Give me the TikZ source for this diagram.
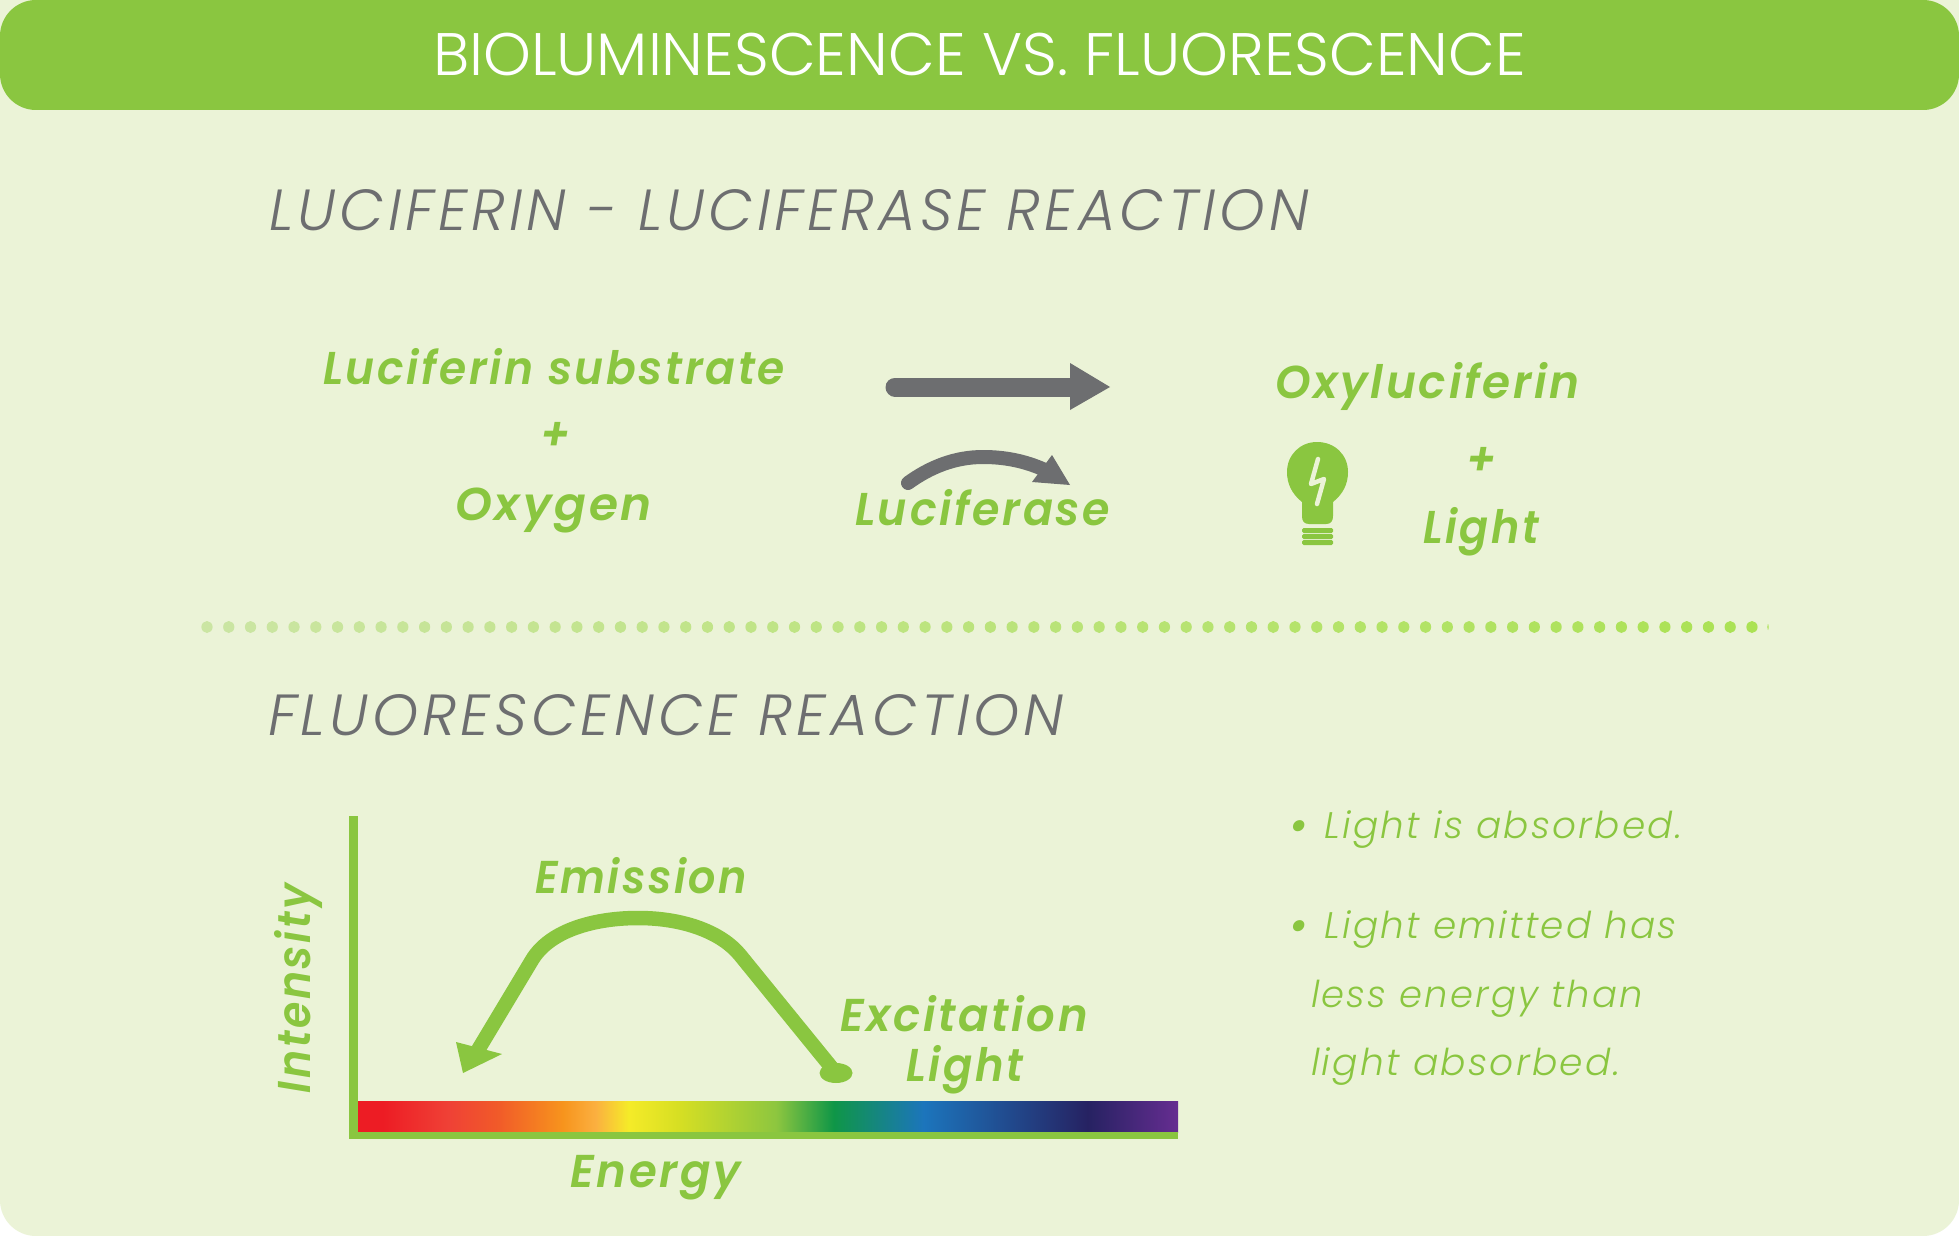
\documentclass[tikz,border=0pt]{standalone}
\usepackage{fontspec}
\usepackage{graphicx}
\setmainfont{Poppins}[UprightFont=* Light,ItalicFont=* Light Italic,BoldFont=* Bold,BoldItalicFont=* Bold Italic]
\newfontfamily\grnf{Poppins}[ItalicFont=* SemiBold Italic,LetterSpace=6]
\newfontfamily\hdf{Poppins}[ItalicFont=* Light Italic,LetterSpace=7]
\newfontfamily\blf{Poppins}[ItalicFont=* Light Italic,LetterSpace=6]
\usetikzlibrary{calc}
\definecolor{leaf}{HTML}{8AC640}
\definecolor{pale}{HTML}{EBF3D7}
\definecolor{slate}{HTML}{6D6E70}
\definecolor{dotA}{HTML}{CBE5A3}
\definecolor{dotB}{HTML}{ABE254}
\definecolor{sA}{HTML}{ED1C24}
\definecolor{sB}{HTML}{EF4136}
\definecolor{sC}{HTML}{F15A29}
\definecolor{sD}{HTML}{F7941D}
\definecolor{sE}{HTML}{FBB040}
\definecolor{sF}{HTML}{F5EB28}
\definecolor{sG}{HTML}{D7DF23}
\definecolor{sH}{HTML}{8DC63F}
\definecolor{sI}{HTML}{0F9647}
\definecolor{sJ}{HTML}{1C75BC}
\definecolor{sK}{HTML}{262262}
\definecolor{sL}{HTML}{662D91}
\pgfdeclarehorizontalshading{spectrum}{100bp}{color(0bp)=(sA); color(26.5bp)=(sA); color(30.5bp)=(sB); color(33.5bp)=(sC); color(37.5bp)=(sD); color(39.5bp)=(sE); color(41.5bp)=(sF); color(44.5bp)=(sG); color(50.5bp)=(sH); color(54bp)=(sI); color(59.5bp)=(sJ); color(69.5bp)=(sK); color(75bp)=(sL); color(100bp)=(sL)}
\newsavebox\fitbox
\newcommand\fitx[2]{\sbox\fitbox{#2}\pgfmathsetmacro\fitscale{#1/\the\wd\fitbox}\scalebox{\fitscale}[1]{\usebox\fitbox}}
\tikzset{
  x=1pt,y=-1pt,
  txt/.style={anchor=base west,inner sep=0pt,outer sep=0pt},
  titletxt/.style={txt,text=white,font=\fontsize{60}{60}\selectfont},
  headtxt/.style={txt,text=slate,font=\fontsize{58}{58}\hdf\itshape},
  greentxt/.style={txt,text=leaf,font=\fontsize{46}{46}\grnf\itshape},
  bullettxt/.style={txt,text=leaf,font=\fontsize{37}{37}\blf\itshape},
}
\begin{document}
\begin{tikzpicture}
\useasboundingbox (0,0) rectangle (1959,1236);
\fill[white] (0,0) rectangle (1959,1236);
\fill[pale,rounded corners=36pt] (0,0) rectangle (1959,1236);
\fill[pale] (0,0) rectangle (1959,300);
\fill[leaf,rounded corners=36pt] (0,0) rectangle (1959,110);
\node[titletxt] (title) at (433,76) {\fitx{1093}{BIOLUMINESCENCE VS. FLUORESCENCE}};
\node[headtxt] (head1) at (269,230) {\fitx{1040}{LUCIFERIN - LUCIFERASE REACTION}};
\node[headtxt] (head2) at (268,735) {\fitx{796}{FLUORESCENCE REACTION}};
% reaction
\node[greentxt] (sub) at (323,384) {\fitx{462}{Luciferin substrate}};
\node[greentxt] (plusa) at (540,450) {\fitx{30}{+}};
\node[greentxt] (oxy) at (455,520) {\fitx{197}{Oxygen}};
\node[greentxt] (lase) at (855,525) {\fitx{255}{Luciferase}};
\node[greentxt] (oxyl) at (1275,398) {\fitx{305}{Oxyluciferin}};
\node[greentxt] (plusb) at (1466,475) {\fitx{30}{+}};
\node[greentxt] (light) at (1423,543) {\fitx{116}{Light}};
% straight arrow
\coordinate (arA) at (895,387);
\coordinate (arB) at (1071,387);
\draw[slate,line width=19pt,line cap=round] (arA) -- (arB);
\fill[slate] (1070,363) -- (1110,387) -- (1070,410) -- cycle;
% curved arrow
\coordinate (crA) at (908,483);
\coordinate (crB) at (1045,470);
\draw[slate,line width=14pt,line cap=round] (crA) .. controls (930,467) and (955,457) .. (983,457) .. controls (1005,457) and (1025,461) .. (crB);
\fill[slate] (1052,455) -- (1070,485) -- (1032,482) -- cycle;
% bulb
\fill[leaf] (1302,502) .. controls (1292,494) and (1287,484) .. (1287,472)
  .. controls (1287,455) and (1300,442) .. (1317,442)
  .. controls (1335,442) and (1348,455) .. (1348,472)
  .. controls (1348,484) and (1343,494) .. (1333,502)
  -- (1333,516) .. controls (1333,521) and (1331,524) .. (1326,524)
  -- (1309,524) .. controls (1304,524) and (1302,521) .. (1302,516) -- cycle;
\draw[pale,line width=4.5pt,line cap=round,line join=round] (1318,459) -- (1311,484) -- (1324,479) -- (1317,504);
\foreach \yy in {528,534,540}
  \fill[leaf,rounded corners=1.5pt] (1302,\yy) rectangle (1333,\yy+5);
% dots
\foreach \i in {0,...,71}{
  \pgfmathsetmacro\shadeamt{100*\i/71}
  \fill[dotB!\shadeamt!dotA] ({207+21.76*\i},627) ellipse (5.6 and 6);
}
\fill[dotB] (1768,627) ellipse (0.6 and 3);
% plot
\shade[shading=spectrum] (358,1101) rectangle (1178,1132);
\fill[leaf] (349,816) rectangle (358,1139);
\fill[leaf] (349,1132) rectangle (1178,1139);
\coordinate (emA) at (836,1073);
\coordinate (emB) at (478,1050);
\draw[leaf,line width=14.5pt] (emA) -- (740,955) .. controls (722,933) and (685,918) .. (638,918)
   .. controls (595,918) and (550,930) .. (532,960) -- (emB);
\fill[leaf] (emA) ellipse (16.5 and 10);
\fill[leaf] (456,1042) -- (502,1054) -- (463,1073) -- cycle;
\node[greentxt,rotate=90] (inten) at (310,1093) {\fitx{209}{Intensity}};
\node[greentxt] (emis) at (535,893) {\fitx{212}{Emission}};
\node[greentxt] (exc) at (840,1031) {\fitx{248}{Excitation}};
\node[greentxt] (lig2) at (906,1081) {\fitx{117}{Light}};
\node[greentxt] (ener) at (570,1187) {\fitx{171}{Energy}};
% bullets
\node[bullettxt] (b1) at (1289,838) {\fitx{393}{{\fontspec{Poppins Bold}\textbullet}\hspace{0.45em}Light is absorbed.}};
\node[bullettxt] (b2) at (1289,938) {\fitx{388}{{\fontspec{Poppins Bold}\textbullet}\hspace{0.45em}Light emitted has}};
\node[bullettxt] (b3) at (1311,1007) {\fitx{332}{less energy than}};
\node[bullettxt] (b4) at (1311,1075) {\fitx{309}{light absorbed.}};
\end{tikzpicture}
\end{document}
